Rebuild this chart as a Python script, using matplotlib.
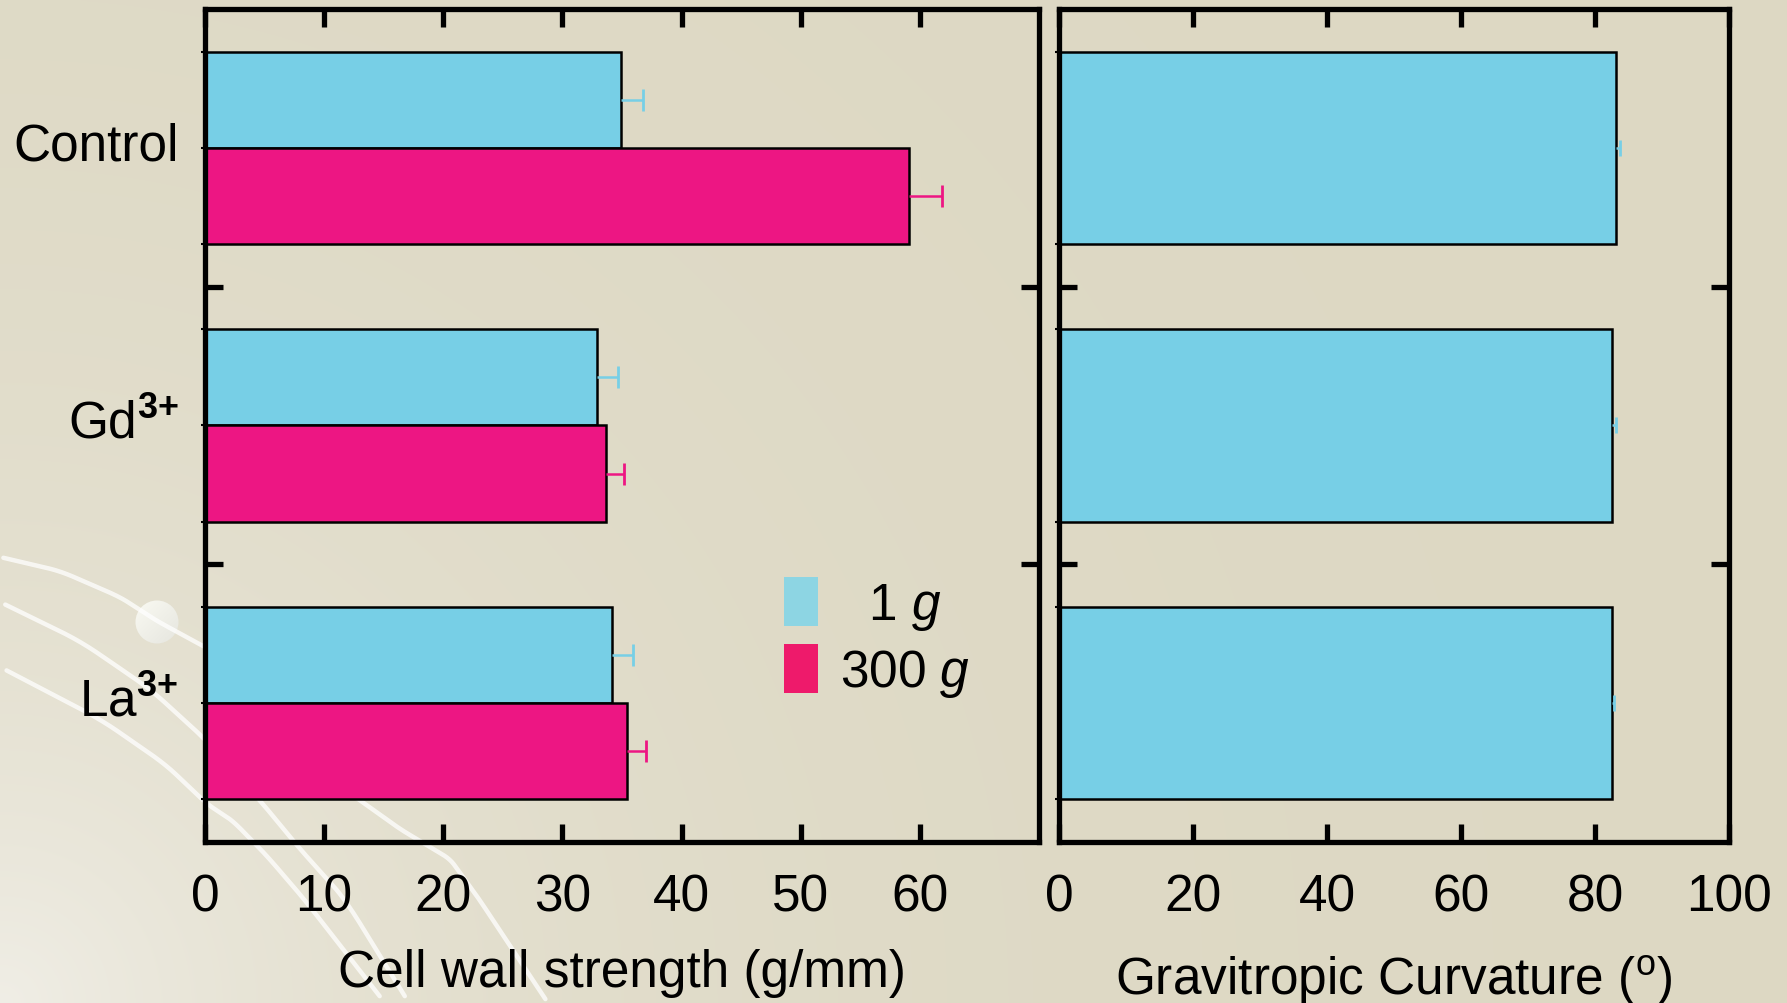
import numpy as np
import matplotlib
matplotlib.use("Agg")
import matplotlib.pyplot as plt
import matplotlib.transforms as mtransforms
from matplotlib.patches import Circle, Patch

groups = ['Control', r'Gd$^{\mathbf{3{+}}}$', r'La$^{\mathbf{3{+}}}$']
wall_1g = [34.9, 32.9, 34.2]
wall_1g_err = [1.9, 1.8, 1.7]
wall_300g = [59.1, 33.7, 35.4]
wall_300g_err = [2.8, 1.5, 1.6]
curv_1g = [83.1, 82.6, 82.6]
curv_1g_err = [0.7, 0.6, 0.3]

CYAN = '#77CFE6'
PINK = '#ED1683'
BG = '#DDD8C3'

plt.rcParams['font.family'] = ['Liberation Sans', 'DejaVu Sans']
plt.rcParams['mathtext.fontset'] = 'custom'
plt.rcParams['mathtext.rm'] = 'Liberation Sans'
plt.rcParams['mathtext.it'] = 'Liberation Sans:italic'
plt.rcParams['mathtext.bf'] = 'Liberation Sans:bold'

fig = plt.figure(figsize=(17.87, 10.04), dpi=100)

# background with light corner and white swooshes
bg = fig.add_axes([0, 0, 1, 1], zorder=0)
W, H = 1787, 1004
yy, xx = np.mgrid[0:H:4, 0:W:4]
d = np.sqrt(xx ** 2 + (H - yy) ** 2)
t = np.exp(-d / 420.0)
c0 = np.array([0xDD, 0xD8, 0xC3]) / 255
c1 = np.array([0xF0, 0xEE, 0xE6]) / 255
img = c0[None, None, :] * (1 - t[..., None]) + c1[None, None, :] * t[..., None]
bg.imshow(img, extent=[0, W, H, 0], aspect='auto', interpolation='bilinear')
curves = [
    [(0, 558), (60, 572), (120, 598), (157, 622), (205, 648), (300, 700), (500, 760)],
    [(0, 603), (80, 642), (150, 690), (205, 740), (263, 805), (300, 850), (345, 900), (409, 1004)],
    [(0, 668), (100, 720), (165, 765), (207, 805), (233, 822), (267, 857), (304, 900), (385, 1004)],
    [(330, 780), (400, 830), (450, 860), (479, 900), (548, 1004)],
]
for pts in curves:
    p = np.array(pts, dtype=float)
    s = np.linspace(0, 1, len(p))
    ss = np.linspace(0, 1, 200)
    cx = np.interp(ss, s, p[:, 0])
    cy = np.interp(ss, s, p[:, 1])
    k = np.ones(15) / 15
    cx2 = np.convolve(np.pad(cx, 7, mode='edge'), k, mode='valid')
    cy2 = np.convolve(np.pad(cy, 7, mode='edge'), k, mode='valid')
    bg.plot(cx2, cy2, color='white', lw=3.2, alpha=0.75, solid_capstyle='round')
sph = Circle((157, 623), 21.5, transform=bg.transData)
gy, gx = np.mgrid[0:1:50j, 0:1:50j]
shade = 0.90 + 0.08 * (1 - (gx + gy) / 2)
sph_img = np.dstack([shade, shade, shade * 0.97])
im = bg.imshow(sph_img, extent=[135, 179, 645, 601], interpolation='bilinear')
im.set_clip_path(sph)
bg.set_xlim(0, W)
bg.set_ylim(H, 0)
bg.axis('off')

ax1 = fig.add_axes([0.1147, 0.1604, 0.4667, 0.8296], zorder=1)
ax2 = fig.add_axes([0.5926, 0.1604, 0.3749, 0.8296], zorder=1)

y = np.arange(len(groups))
h = 0.347


def one_sided_err(ax, vals, errs, ypos, color, cap=16):
    vals = np.asarray(vals)
    errs = np.asarray(errs)
    ax.hlines(ypos, vals, vals + errs, color=color, lw=1.8, zorder=3)
    ax.plot(vals + errs, ypos, ls='none', marker='|', ms=cap, mew=2,
            color=color, zorder=3)


ax1.barh(y - h / 2, wall_1g, height=h, color=CYAN, edgecolor='black', linewidth=1.8)
ax1.barh(y + h / 2, wall_300g, height=h, color=PINK, edgecolor='black', linewidth=1.8)
one_sided_err(ax1, wall_1g, wall_1g_err, y - h / 2, CYAN)
one_sided_err(ax1, wall_300g, wall_300g_err, y + h / 2, PINK)

ax2.barh(y, curv_1g, height=2 * h, color=CYAN, edgecolor='black', linewidth=1.8)
one_sided_err(ax2, curv_1g, curv_1g_err, y, CYAN, cap=11)

ax1.set_xlim(0, 70)
ax1.set_xticks(np.arange(0, 61, 10))
ax2.set_xlim(0, 100)
ax2.set_xticks(np.arange(0, 101, 20))

for ax in (ax1, ax2):
    ax.set_facecolor('none')
    ax.set_ylim(2.5, -0.5)
    ax.set_yticks([0.5, 1.5])
    ax.set_yticklabels([])
    for sp in ax.spines.values():
        sp.set_linewidth(3.8)
    ax.tick_params(axis='x', which='major', direction='in', top=True, bottom=True,
                   length=13, width=3.8, labelsize=37, pad=22)
    ax.tick_params(axis='y', which='major', direction='in', left=True, right=True,
                   length=13, width=3.8)
    ax.tick_params(axis='y', which='minor', direction='out', left=True, right=False,
                   length=3, width=1.5, labelsize=37, pad=16)

ax1.set_yticks(np.concatenate([y - h, y + h, y]), minor=True)
ax1.set_yticklabels([''] * 6 + groups, minor=True)
ax2.set_yticks(np.concatenate([y - h, y + h]), minor=True)
shift = mtransforms.ScaledTranslation(0, 7 / 100, fig.dpi_scale_trans)
for lbl in ax1.get_yticklabels(minor=True):
    lbl.set_transform(lbl.get_transform() + shift)

ax1.set_xlabel('Cell wall strength (g/mm)', fontsize=37, labelpad=19)
ax2.set_xlabel(r'Gravitropic Curvature ($^{\mathrm{o}}$)', fontsize=37, labelpad=22)

handles = [Patch(facecolor='#8DD5E3', edgecolor='none'),
           Patch(facecolor='#EE1A6B', edgecolor='none')]
ax1.legend(handles, [r'  1 $\mathit{g}$', r'300 $\mathit{g}$'], loc='upper left',
           bbox_to_anchor=(0.694, 0.318), frameon=False, fontsize=37,
           handlelength=0.66, handleheight=1.1, handletextpad=0.43,
           labelspacing=0.22, borderpad=0, borderaxespad=0)

fig.savefig('out.png', dpi=100, facecolor=BG)
